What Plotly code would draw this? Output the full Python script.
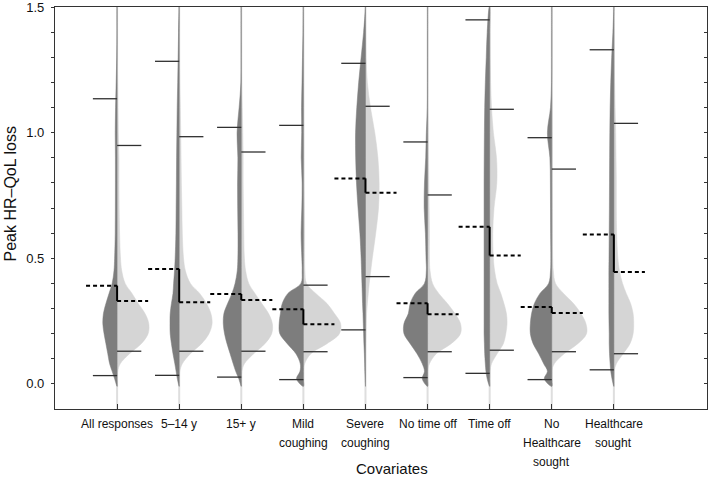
import plotly.graph_objects as go

# ---------------- data ----------------
categories = ["All responses", "5–14 y", "15+ y", "Mild<br>coughing", "Severe<br>coughing",
              "No time off", "Time off", "No<br>Healthcare<br>sought", "Healthcare<br>sought"]
positions = [1, 2, 3, 4, 5, 6, 7, 8, 9]

left_mean = [0.391, 0.457, 0.358, 0.297, 0.818, 0.321, 0.625, 0.306, 0.595]
right_mean = [0.330, 0.325, 0.334, 0.237, 0.761, 0.277, 0.511, 0.282, 0.445]
left_upper = [1.135, 1.284, 1.021, 1.029, 1.276, 0.963, 1.449, 0.980, 1.330]
left_lower = [0.033, 0.034, 0.027, 0.017, 0.215, 0.025, 0.042, 0.017, 0.056]
right_upper = [0.949, 0.984, 0.923, 0.393, 1.105, 0.752, 1.093, 0.855, 1.037]
right_lower = [0.130, 0.130, 0.130, 0.128, 0.427, 0.128, 0.134, 0.128, 0.120]

# density profiles (half-widths in category units) on a common y grid
density_y = [-0.01, 0.02, 0.05, 0.08, 0.12, 0.16, 0.2, 0.24, 0.28, 0.32, 0.36, 0.4,
             0.45, 0.5, 0.6, 0.7, 0.8, 0.9, 1.0, 1.1, 1.2, 1.3, 1.4, 1.5]

left_density = [
    [0, 0.04, 0.08, 0.12, 0.15, 0.18, 0.21, 0.23, 0.22, 0.18, 0.13, 0.08, 0.05, 0.04, 0.03, 0.028, 0.027, 0.027, 0.03, 0.025, 0.015, 0.005, 0, 0],
    [0, 0.03, 0.05, 0.07, 0.1, 0.125, 0.145, 0.148, 0.145, 0.125, 0.1, 0.09, 0.075, 0.065, 0.053, 0.049, 0.045, 0.042, 0.037, 0.032, 0.024, 0.017, 0.01, 0],
    [0, 0.04, 0.09, 0.13, 0.18, 0.23, 0.27, 0.29, 0.28, 0.22, 0.15, 0.1, 0.065, 0.055, 0.053, 0.058, 0.06, 0.055, 0.068, 0.035, 0.005, 0, 0, 0],
    [0, 0.11, 0.055, 0.05, 0.12, 0.26, 0.38, 0.39, 0.37, 0.34, 0.25, 0.04, 0.02, 0.025, 0.037, 0.025, 0.02, 0.035, 0.027, 0.03, 0.022, 0.014, 0.005, 0],
    [0, 0.005, 0.01, 0.013, 0.018, 0.025, 0.03, 0.035, 0.04, 0.047, 0.052, 0.057, 0.063, 0.07, 0.09, 0.12, 0.145, 0.158, 0.16, 0.14, 0.11, 0.07, 0.03, 0],
    [0, 0.085, 0.05, 0.085, 0.17, 0.28, 0.38, 0.38, 0.31, 0.28, 0.2, 0.05, 0.02, 0.025, 0.035, 0.055, 0.05, 0.03, 0.02, 0.003, 0, 0, 0, 0],
    [0, 0.04, 0.06, 0.07, 0.08, 0.085, 0.09, 0.09, 0.09, 0.09, 0.09, 0.09, 0.09, 0.09, 0.09, 0.09, 0.09, 0.088, 0.085, 0.08, 0.07, 0.055, 0.04, 0.005],
    [0, 0.12, 0.07, 0.13, 0.21, 0.3, 0.345, 0.345, 0.325, 0.28, 0.19, 0.05, 0.02, 0.015, 0.018, 0.02, 0.022, 0.03, 0.07, 0.02, 0.003, 0, 0, 0],
    [0, 0.03, 0.05, 0.06, 0.07, 0.075, 0.075, 0.078, 0.08, 0.08, 0.08, 0.08, 0.08, 0.078, 0.075, 0.072, 0.07, 0.068, 0.065, 0.06, 0.05, 0.035, 0.015, 0],
]

right_density = [
    [0, 0, 0.01, 0.05, 0.2, 0.39, 0.5, 0.51, 0.45, 0.34, 0.24, 0.13, 0.075, 0.055, 0.04, 0.033, 0.03, 0.03, 0.02, 0.015, 0.01, 0.003, 0, 0],
    [0, 0, 0.01, 0.05, 0.18, 0.36, 0.48, 0.53, 0.51, 0.44, 0.33, 0.18, 0.1, 0.07, 0.05, 0.043, 0.035, 0.03, 0.025, 0.018, 0.01, 0.004, 0, 0],
    [0, 0, 0.01, 0.05, 0.2, 0.38, 0.49, 0.5, 0.44, 0.33, 0.22, 0.12, 0.07, 0.05, 0.04, 0.035, 0.03, 0.03, 0.025, 0.015, 0.005, 0, 0, 0],
    [0, 0, 0, 0.02, 0.12, 0.38, 0.58, 0.6, 0.5, 0.38, 0.2, 0.05, 0.025, 0.02, 0.02, 0.018, 0.012, 0.01, 0.008, 0.005, 0, 0, 0, 0],
    [0, 0, 0, 0, 0, 0.003, 0.008, 0.012, 0.018, 0.03, 0.045, 0.06, 0.085, 0.11, 0.165, 0.21, 0.22, 0.2, 0.15, 0.08, 0.03, 0.008, 0, 0],
    [0, 0, 0, 0.03, 0.14, 0.38, 0.53, 0.53, 0.44, 0.32, 0.18, 0.08, 0.04, 0.03, 0.03, 0.025, 0.02, 0.015, 0.01, 0.005, 0, 0, 0, 0],
    [0, 0, 0.005, 0.03, 0.12, 0.22, 0.26, 0.28, 0.27, 0.23, 0.18, 0.12, 0.08, 0.06, 0.05, 0.07, 0.115, 0.11, 0.06, 0.03, 0.015, 0.005, 0, 0],
    [0, 0, 0, 0.04, 0.2, 0.42, 0.56, 0.55, 0.47, 0.35, 0.19, 0.06, 0.025, 0.015, 0.01, 0.008, 0.005, 0.005, 0.003, 0, 0, 0, 0, 0],
    [0, 0, 0.005, 0.04, 0.15, 0.26, 0.31, 0.32, 0.31, 0.27, 0.2, 0.14, 0.09, 0.065, 0.045, 0.04, 0.04, 0.035, 0.03, 0.02, 0.012, 0.005, 0, 0],
]

y_ticks = [0.0, 0.5, 1.0, 1.5]
y_tick_labels = ["0.0", "0.5", "1.0", "1.5"]
y_minor_ticks = [round(0.1 * k, 1) for k in range(16)]

# ---------------- styling ----------------
DARK = "#7d7d7d"
LIGHT = "#d5d5d5"
FONT = "Arial, Liberation Sans, sans-serif"
Y_MIN, Y_MAX = -0.1, 1.5002
Q_LEN = 0.39     # quantile line length (category units)
M_LEN = 0.50     # mean dashed line length
PLOT_TOP, PLOT_BOTTOM, PLOT_LEFT, PLOT_W = 7, 409, 55, 652
PLOT_H = PLOT_BOTTOM - PLOT_TOP

fig = go.Figure()

# background vertical guide lines
gx, gy = [], []
for c in positions:
    gx += [c, c, None]
    gy += [Y_MIN, Y_MAX, None]
fig.add_trace(go.Scatter(x=gx, y=gy, mode="lines", line=dict(color="#dedede", width=2),
                         hoverinfo="skip", showlegend=False))

# half violins
for c, ld, rd in zip(positions, left_density, right_density):
    xs = [c + w for w in rd] + [c] * len(density_y)
    ys = density_y + density_y[::-1]
    fig.add_trace(go.Scatter(x=xs, y=ys, mode="lines", fill="toself", fillcolor=LIGHT,
                             line=dict(color=LIGHT, width=0.5, shape="spline", smoothing=1),
                             hoverinfo="skip", showlegend=False))
    xs = [c - w for w in ld] + [c] * len(density_y)
    fig.add_trace(go.Scatter(x=xs, y=ys, mode="lines", fill="toself", fillcolor=DARK,
                             line=dict(color=DARK, width=0.5, shape="spline", smoothing=1),
                             hoverinfo="skip", showlegend=False))

# quantile lines
qx, qy = [], []
for c, lu, ll, ru, rl in zip(positions, left_upper, left_lower, right_upper, right_lower):
    for v in (lu, ll):
        qx += [c - Q_LEN, c, None]
        qy += [v, v, None]
    for v in (ru, rl):
        qx += [c, c + Q_LEN, None]
        qy += [v, v, None]
fig.add_trace(go.Scatter(x=qx, y=qy, mode="lines", line=dict(color="#303030", width=1.3),
                         hoverinfo="skip", showlegend=False))

# mean dashed lines
mx, my = [], []
vx, vy = [], []
for c, lm, rm in zip(positions, left_mean, right_mean):
    mx += [c - M_LEN, c, None, c, c + M_LEN, None]
    my += [lm, lm, None, rm, rm, None]
    vx += [c, c, None]
    vy += [lm, rm, None]
fig.add_trace(go.Scatter(x=mx, y=my, mode="lines", line=dict(color="black", width=2, dash="4px,3px"),
                         hoverinfo="skip", showlegend=False))
fig.add_trace(go.Scatter(x=vx, y=vy, mode="lines", line=dict(color="black", width=2),
                         hoverinfo="skip", showlegend=False))

# invisible trace for the right-hand mirrored axis
fig.add_trace(go.Scatter(x=[None], y=[None], yaxis="y2", showlegend=False, hoverinfo="skip"))

# category labels: one annotation per text line (wider line spacing than plotly's default)
annotations = []
for c, label in zip(positions, categories):
    for j, line in enumerate(label.split("<br>")):
        ypx = 424 + 19.2 * j
        annotations.append(dict(text=line, x=c, xref="x", yref="paper",
                                y=(PLOT_BOTTOM - ypx) / PLOT_H, xanchor="center", yanchor="middle",
                                showarrow=False, font=dict(size=12)))
annotations += [
    dict(text="Peak HR–QoL loss", xref="paper", yref="paper",
         x=(10 - PLOT_LEFT) / PLOT_W, y=(PLOT_BOTTOM - 194.5) / PLOT_H, xanchor="center", yanchor="middle",
         textangle=-90, showarrow=False, font=dict(size=16)),
    dict(text="Covariates", xref="paper", yref="paper",
         x=(392 - PLOT_LEFT) / PLOT_W, y=(PLOT_BOTTOM - 468) / PLOT_H, xanchor="center", yanchor="middle",
         showarrow=False, font=dict(size=15)),
]

AX = "#333333"
fig.update_layout(
    width=709, height=480,
    margin=dict(l=PLOT_LEFT, r=709 - PLOT_LEFT - PLOT_W, t=PLOT_TOP, b=480 - PLOT_BOTTOM, autoexpand=False),
    paper_bgcolor="white", plot_bgcolor="white",
    font=dict(family=FONT, size=12, color="#111111"),
    showlegend=False,
    xaxis=dict(range=[0, 10.5], tickmode="array", tickvals=positions, showticklabels=False,
               ticks="inside", ticklen=5, tickcolor=AX, tickwidth=1,
               showline=True, linecolor=AX, linewidth=1.3, mirror=True, automargin=False,
               showgrid=False, zeroline=False),
    yaxis=dict(range=[Y_MIN, Y_MAX], tickmode="array", tickvals=y_ticks, ticktext=y_tick_labels,
               ticks="outside", ticklen=3, tickcolor=AX, tickwidth=1, automargin=False,
               ticklabeloverflow="allow",
               minor=dict(tickmode="array", tickvals=y_minor_ticks, ticks="outside", ticklen=3,
                          tickcolor=AX, tickwidth=1),
               showline=True, linecolor=AX, linewidth=1.3,
               showgrid=False, zeroline=False, tickfont=dict(size=13), ticklabelstandoff=4),
    yaxis2=dict(range=[Y_MIN, Y_MAX], overlaying="y", side="right", tickmode="array",
                tickvals=y_minor_ticks, ticks="inside", ticklen=3, tickcolor=AX, tickwidth=1,
                showticklabels=False, showline=True, linecolor=AX, linewidth=1.3,
                automargin=False, showgrid=False, zeroline=False),
    annotations=annotations,
)

fig.write_html("out.html", config={"displayModeBar": False},
               post_script="document.body.style.margin='0px';")
